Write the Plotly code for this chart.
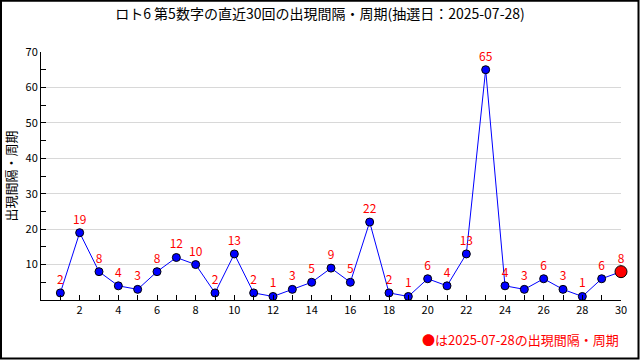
import plotly.graph_objects as go

draws = list(range(1, 31))
intervals = [2, 19, 8, 4, 3, 8, 12, 10, 2, 13, 2, 1, 3, 5, 9, 5, 22, 2, 1, 6, 4, 13, 65, 4, 3, 6, 3, 1, 6, 8]
title_text = "ロト6 第5数字の直近30回の出現間隔・周期(抽選日：2025-07-28)"
ytitle = "出現間隔・周期"
note = "●は2025-07-28の出現間隔・周期"
FONT = "Noto Sans CJK JP"

fig = go.Figure()
fig.add_trace(go.Scatter(
    x=draws, y=intervals, mode="lines+markers+text",
    line=dict(color="#0000ff", width=1),
    marker=dict(color="#0000ff", size=8, line=dict(color="black", width=1)),
    text=[str(v) for v in intervals], textposition="top center",
    textfont=dict(color="#ff0000", size=12, family=FONT),
    cliponaxis=False, showlegend=False,
))
fig.add_trace(go.Scatter(
    x=[draws[-1]], y=[intervals[-1]], mode="markers",
    marker=dict(color="#ff0000", size=12, line=dict(color="black", width=1)),
    cliponaxis=False, showlegend=False,
))

L, R, T, B = 41, 19, 52, 60
pw = 640 - L - R
ph = 360 - T - B

fig.update_layout(
    width=640, height=360,
    margin=dict(l=L, r=R, t=T, b=B),
    paper_bgcolor="white", plot_bgcolor="white",
    font=dict(family=FONT, size=11, color="black"),
    title=dict(text=title_text, x=0.5, xanchor="center", y=0.975, yanchor="top",
               font=dict(size=14, family=FONT, color="black")),
    xaxis=dict(range=[0, 30], tickmode="array", tickvals=list(range(2, 31, 2)),
               ticks="inside", ticklen=5, tickcolor="black", showgrid=False,
               showline=True, linecolor="black", linewidth=1, zeroline=False,
               minor=dict(tickvals=list(range(1, 31, 2)), ticks="inside", ticklen=5, tickcolor="black"),
               tickfont=dict(size=11, color="black"), automargin=False),
    yaxis=dict(range=[0, 70], tickmode="array", tickvals=[10, 20, 30, 40, 50, 60, 70],
               ticks="inside", ticklen=5, tickcolor="black", showgrid=True, gridcolor="#d8d8d8",
               showline=True, linecolor="black", linewidth=1, zeroline=False,
               minor=dict(tickvals=[5, 15, 25, 35, 45, 55, 65], ticks="inside", ticklen=5, tickcolor="black"),
               title=dict(text=ytitle, font=dict(size=13, color="black"), standoff=6),
               tickfont=dict(size=11, color="black"), automargin=False),
    annotations=[dict(text=note, xref="paper", yref="paper", x=1.0, y=-(328 - 300) / ph,
                      xanchor="right", yanchor="top", showarrow=False,
                      font=dict(color="#ff0000", size=13, family=FONT))],
)
# outer frame of the image
fig.add_shape(type="rect", xref="paper", yref="paper",
              x0=(1 - L) / pw, x1=(638.5 - L) / pw,
              y0=(300 - 358.5) / ph, y1=(300 - 0.75) / ph,
              line=dict(color="black", width=2), layer="above")
fig.write_html("out.html", config={"displayModeBar": False},
               post_script="document.body.style.margin='0';")
